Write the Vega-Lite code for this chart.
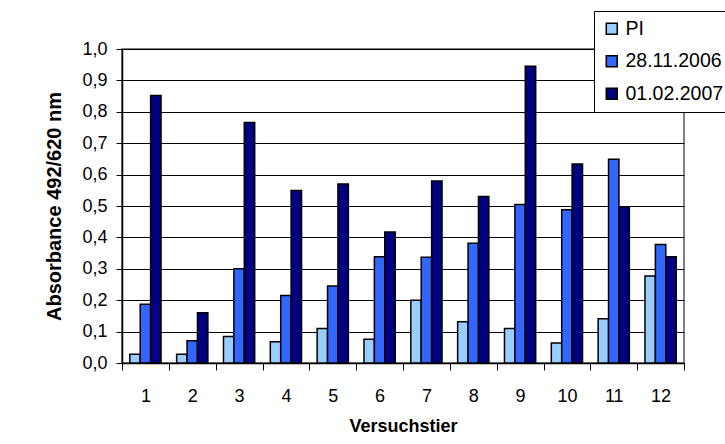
{
  "$schema": "https://vega.github.io/schema/vega-lite/v6.json",
  "autosize": {"type": "none"},
  "padding": {"left": 122, "top": 49, "right": 41, "bottom": 81},
  "width": 562,
  "height": 314,
  "background": "white",
  "config": {
    "font": "Liberation Sans",
    "view": {"stroke": "#808080", "strokeWidth": 2}
  },
  "data": {
    "values": [
      {"tier": 1, "serie": "PI", "wert": 0.028},
      {"tier": 1, "serie": "28.11.2006", "wert": 0.187},
      {"tier": 1, "serie": "01.02.2007", "wert": 0.852},
      {"tier": 2, "serie": "PI", "wert": 0.028},
      {"tier": 2, "serie": "28.11.2006", "wert": 0.071},
      {"tier": 2, "serie": "01.02.2007", "wert": 0.160},
      {"tier": 3, "serie": "PI", "wert": 0.084},
      {"tier": 3, "serie": "28.11.2006", "wert": 0.300},
      {"tier": 3, "serie": "01.02.2007", "wert": 0.766},
      {"tier": 4, "serie": "PI", "wert": 0.068},
      {"tier": 4, "serie": "28.11.2006", "wert": 0.215},
      {"tier": 4, "serie": "01.02.2007", "wert": 0.549},
      {"tier": 5, "serie": "PI", "wert": 0.110},
      {"tier": 5, "serie": "28.11.2006", "wert": 0.245},
      {"tier": 5, "serie": "01.02.2007", "wert": 0.570},
      {"tier": 6, "serie": "PI", "wert": 0.076},
      {"tier": 6, "serie": "28.11.2006", "wert": 0.338},
      {"tier": 6, "serie": "01.02.2007", "wert": 0.417},
      {"tier": 7, "serie": "PI", "wert": 0.200},
      {"tier": 7, "serie": "28.11.2006", "wert": 0.337},
      {"tier": 7, "serie": "01.02.2007", "wert": 0.580},
      {"tier": 8, "serie": "PI", "wert": 0.131},
      {"tier": 8, "serie": "28.11.2006", "wert": 0.381},
      {"tier": 8, "serie": "01.02.2007", "wert": 0.530},
      {"tier": 9, "serie": "PI", "wert": 0.110},
      {"tier": 9, "serie": "28.11.2006", "wert": 0.505},
      {"tier": 9, "serie": "01.02.2007", "wert": 0.945},
      {"tier": 10, "serie": "PI", "wert": 0.064},
      {"tier": 10, "serie": "28.11.2006", "wert": 0.488},
      {"tier": 10, "serie": "01.02.2007", "wert": 0.634},
      {"tier": 11, "serie": "PI", "wert": 0.141},
      {"tier": 11, "serie": "28.11.2006", "wert": 0.649},
      {"tier": 11, "serie": "01.02.2007", "wert": 0.498},
      {"tier": 12, "serie": "PI", "wert": 0.277},
      {"tier": 12, "serie": "28.11.2006", "wert": 0.377},
      {"tier": 12, "serie": "01.02.2007", "wert": 0.338}
    ]
  },
  "mark": {"type": "bar", "stroke": "black", "strokeWidth": 1.5},
  "encoding": {
    "x": {
      "field": "tier",
      "type": "ordinal",
      "scale": {"paddingInner": 0, "paddingOuter": 0},
      "axis": {
        "title": "Versuchstier",
        "titleFontSize": 18,
        "titleFontWeight": "bold",
        "titleColor": "black",
        "titlePadding": 12,
        "labelAngle": 0,
        "labelFontSize": 18,
        "labelColor": "black",
        "labelPadding": 17,
        "tickBand": "extent",
        "tickColor": "black",
        "tickSize": 7,
        "domainColor": "black",
        "domainWidth": 1.5,
        "grid": false
      }
    },
    "xOffset": {
      "field": "serie",
      "type": "nominal",
      "sort": ["PI", "28.11.2006", "01.02.2007"],
      "scale": {"paddingInner": 0, "paddingOuter": 0.75}
    },
    "y": {
      "field": "wert",
      "type": "quantitative",
      "scale": {"domain": [0, 1], "nice": false},
      "axis": {
        "title": "Absorbance 492/620 nm",
        "titleFontSize": 20,
        "titleFontWeight": "bold",
        "titleColor": "black",
        "titlePadding": 17,
        "values": [0, 0.1, 0.2, 0.3, 0.4, 0.5, 0.6, 0.7, 0.8, 0.9, 1.0],
        "labelExpr": "replace(format(datum.value, '.1f'), '.', ',')",
        "labelFontSize": 18,
        "labelColor": "black",
        "labelPadding": 9,
        "tickColor": "black",
        "tickSize": 6,
        "domainColor": "black",
        "domainWidth": 1.5,
        "grid": true,
        "gridColor": "black",
        "gridWidth": 1,
        "gridOpacity": 1
      }
    },
    "color": {
      "field": "serie",
      "type": "nominal",
      "sort": ["PI", "28.11.2006", "01.02.2007"],
      "scale": {
        "domain": ["PI", "28.11.2006", "01.02.2007"],
        "range": ["#99CCFF", "#3366FF", "#000080"]
      },
      "legend": {
        "title": null,
        "orient": "none",
        "legendX": 472,
        "legendY": -38,
        "direction": "vertical",
        "symbolType": "square",
        "symbolSize": 120,
        "symbolStrokeColor": "black",
        "symbolStrokeWidth": 1.5,
        "labelFontSize": 19.5,
        "labelColor": "black",
        "labelOffset": 4,
        "rowPadding": 11.5,
        "padding": 8,
        "strokeColor": "black",
        "fillColor": "white"
      }
    }
  }
}
